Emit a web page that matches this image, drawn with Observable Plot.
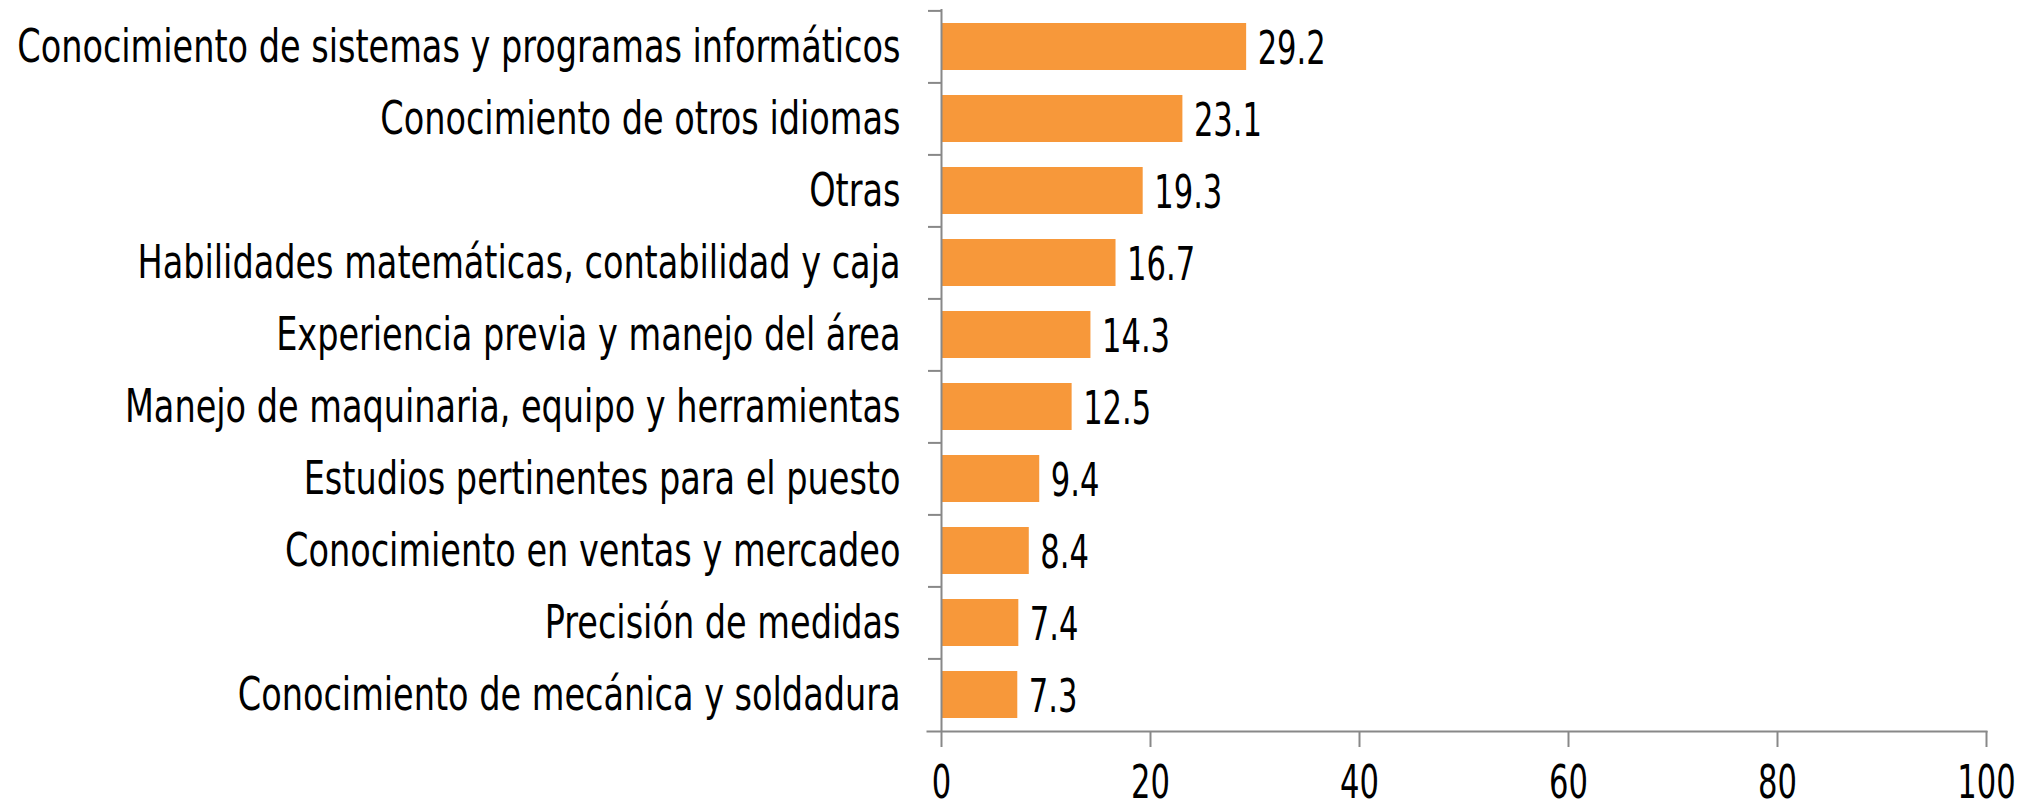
<!DOCTYPE html>
<html>
<head>
<meta charset="utf-8">
<script src="https://cdn.jsdelivr.net/npm/d3@7"></script>
<script src="https://cdn.jsdelivr.net/npm/@observablehq/plot@0.6"></script>
<style>
  html, body { margin: 0; padding: 0; background: #fff; }
  #chart svg { display: block; }
</style>
</head>
<body>
<div id="chart"></div>
<script>
const categories = [
  "Conocimiento de sistemas y programas informáticos",
  "Conocimiento de otros idiomas",
  "Otras",
  "Habilidades matemáticas, contabilidad y caja",
  "Experiencia previa y manejo del área",
  "Manejo de maquinaria, equipo y herramientas",
  "Estudios pertinentes para el puesto",
  "Conocimiento en ventas y mercadeo",
  "Precisión de medidas",
  "Conocimiento de mecánica y soldadura"
];
const values = [29.2, 23.1, 19.3, 16.7, 14.3, 12.5, 9.4, 8.4, 7.4, 7.3];
const xTicks = [0, 20, 40, 60, 80, 100];

const data = categories.map((c, i) => ({category: c, value: values[i]}));

const W = 2034, H = 812;
const mTop = 9, mBottom = 81, mLeft = 941, mRight = 48;
const step = (H - mTop - mBottom) / categories.length;
const font = "'DejaVu Sans Condensed', 'Liberation Sans Narrow', 'Liberation Sans', sans-serif";
const axisColor = "#888888";

const chart = Plot.plot({
  width: W,
  height: H,
  marginTop: mTop,
  marginBottom: mBottom,
  marginLeft: mLeft,
  marginRight: mRight,
  style: {fontFamily: font, fontSize: "46px", color: "#000", background: "#fff"},
  x: {domain: [0, 100], ticks: xTicks, label: null},
  y: {domain: categories, paddingInner: 0.35, paddingOuter: 0.175, label: null},
  marks: [
    Plot.barX(data, {x: "value", y: "category", fill: "#F7983A"}),
    Plot.text(data, {x: "value", y: "category", text: d => d.value.toFixed(1), textAnchor: "start", dx: 11, dy: 2, fontSize: 46, fill: "#000", className: "num"}),
    Plot.ruleX([0], {stroke: axisColor, strokeWidth: 2}),
    Plot.frame({anchor: "bottom", stroke: axisColor, strokeWidth: 2, insetLeft: -14}),
    Plot.axisY({tickSize: 13, dy: -step / 2, text: null, stroke: axisColor, strokeWidth: 2}),
    Plot.axisY({tickSize: 0, tickPadding: 41, fill: "#000", fontSize: 46, label: null, className: "cat"}),
    Plot.axisX({ticks: xTicks, tickSize: 16, stroke: axisColor, strokeWidth: 2, tickPadding: 18, fill: "#000", fontSize: 46, label: null, className: "num"})
  ]
});

// emulate the narrow typeface of the original by condensing text horizontally
function condense(sel, sx) {
  d3.select(chart).selectAll(sel).each(function() {
    const t = this.getAttribute("transform") || "";
    this.setAttribute("transform", (t + ` scale(${sx},1)`).trim());
  });
}
condense("g.cat text, g[aria-label='y-axis tick label'] text", 0.81);
condense("g[aria-label='text'] text, g[aria-label='x-axis tick label'] text", 0.74);

document.getElementById("chart").appendChild(chart);
</script>
</body>
</html>
